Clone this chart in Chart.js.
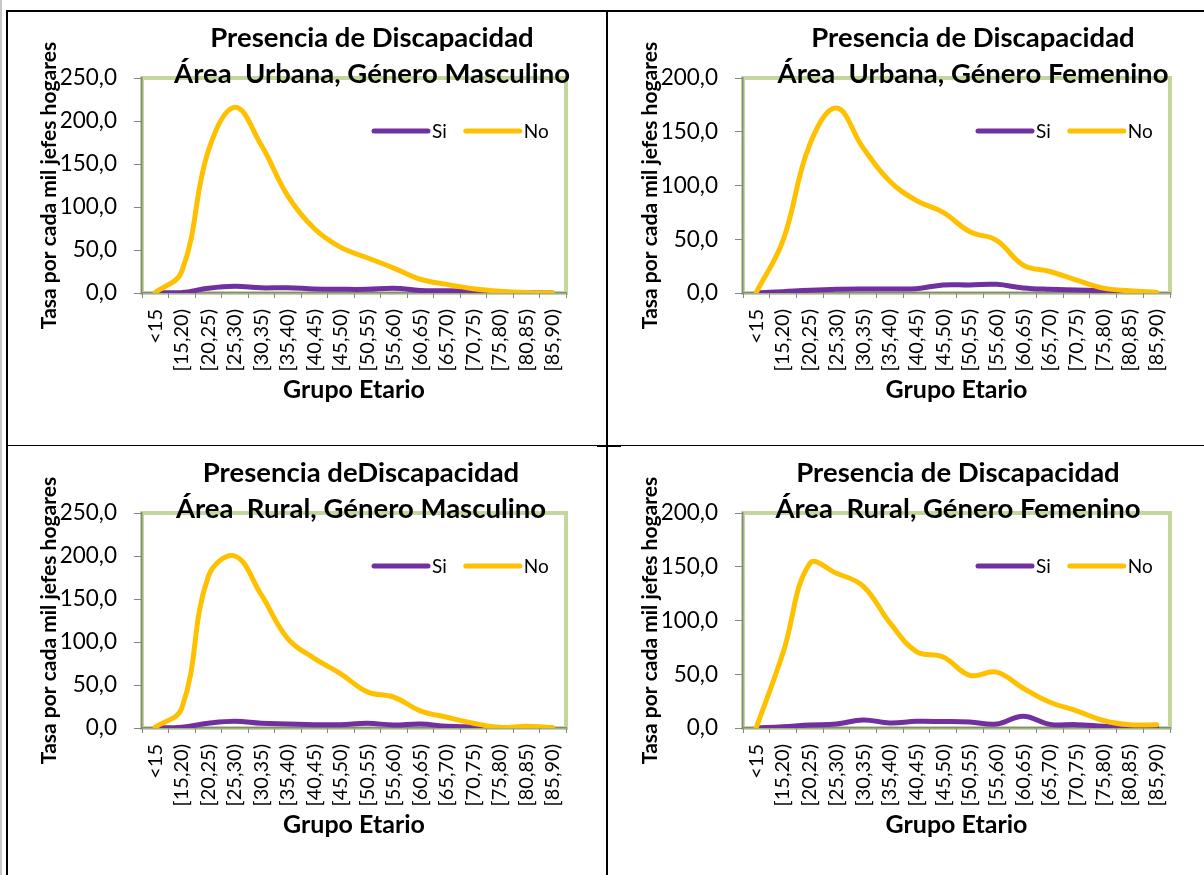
<!DOCTYPE html>
<html lang="es">
<head>
<meta charset="utf-8">
<title>Presencia de Discapacidad</title>
<script src="https://cdn.jsdelivr.net/npm/chart.js@4.4.1/dist/chart.umd.min.js"></script>
<style>
  body { margin: 0; width: 1204px; height: 875px; overflow: hidden; background: #fff; position: relative; font-family: Lato, sans-serif; }
  .rule { position: absolute; background: #000; }
  canvas { position: absolute; }
</style>
</head>
<body>
<!-- table borders around the four charts -->
<div class="rule" style="left:0;top:0;width:2px;height:875px;background:#c8c8c8"></div>
<div class="rule" style="left:6px;top:10px;width:1198px;height:2px"></div>
<div class="rule" style="left:6px;top:10px;width:2px;height:865px"></div>
<div class="rule" style="left:606px;top:10px;width:2px;height:865px"></div>
<div class="rule" style="left:8px;top:445px;width:1196px;height:1px"></div>
<div class="rule" style="left:597px;top:445px;width:24px;height:2px"></div>

<canvas id="urbMasc" width="599" height="428" style="left:8px;top:12px"></canvas>
<canvas id="urbFem" width="595" height="428" style="left:609px;top:12px"></canvas>
<canvas id="rurMasc" width="599" height="428" style="left:8px;top:447px"></canvas>
<canvas id="rurFem" width="595" height="428" style="left:609px;top:447px"></canvas>

<script>
const categories = ['<15', '[15,20)', '[20,25)', '[25,30)', '[30,35)', '[35,40)', '[40,45)', '[45,50)',
  '[50,55)', '[55,60)', '[60,65)', '[65,70)', '[70,75)', '[75,80)', '[80,85)', '[85,90)'];

// tasa por cada mil jefes de hogar
const urbMascSi = [0.1, 0.5, 5.5, 7.8, 6.0, 6.2, 4.7, 4.3, 4.3, 5.5, 3.0, 2.7, 2.0, 0.8, 0.3, 0.1];
const urbMascNo = [0.5, 25, 165, 216, 172, 113, 75, 53, 41, 29, 16, 10, 5, 2, 0.5, 0.2];
const urbFemSi = [0, 1.2, 2.5, 3.4, 3.7, 3.7, 4.0, 7.5, 7.5, 8.1, 4.7, 3.4, 2.8, 2.2, 0.6, 0];
const urbFemNo = [0.5, 49, 138, 172, 135, 104, 86, 75, 57, 49, 26, 20, 12, 4.5, 2, 0.6];
const rurMascSi = [0, 1, 5.5, 7.8, 5.5, 4.7, 3.9, 3.9, 5.5, 3.5, 4.7, 2, 1.2, 0.1, 0.2, 0];
const rurMascNo = [1, 23, 176, 200, 155, 104, 81, 63, 42, 36, 20, 12.5, 5.5, 0.8, 2, 0.3];
const rurFemSi = [0, 1.2, 2.8, 3.7, 7.5, 4.7, 6.2, 6.0, 5.6, 3.7, 11, 3.4, 3.1, 1.6, 0.3, 0.3];
const rurFemNo = [0.5, 70, 153, 144, 132, 98, 71, 66, 49, 52, 37, 24, 16, 7, 3, 3];

const ticks250 = ['0,0', '50,0', '100,0', '150,0', '200,0', '250,0'];
const ticks200 = ['0,0', '50,0', '100,0', '150,0', '200,0'];

const purple = '#7030a0', gold = '#ffc000', green = '#c3d69b', axisGray = '#868686';

// green plot frame, two-line title and the legend inside the plot
const panelDeco = {
  id: 'panelDeco',
  beforeDraw(chart) {
    const a = chart.chartArea, ctx = chart.ctx;
    ctx.save();
    ctx.strokeStyle = green;
    ctx.lineWidth = 4;
    ctx.strokeRect(a.left, a.top, a.right - a.left, a.bottom - a.top);
    ctx.restore();
  },
  afterDraw(chart, args, opts) {
    const a = chart.chartArea, ctx = chart.ctx;
    ctx.save();
    ctx.fillStyle = '#000';
    ctx.textAlign = 'center';
    ctx.textBaseline = 'middle';
    ctx.font = 'bold 27.5px Lato';
    opts.title.forEach((t, i) => ctx.fillText(t, opts.titleX, 26 + i * 36));

    ctx.font = '19px Lato';
    ctx.textAlign = 'left';
    let x = a.right - 192;
    const y = a.top + 53;
    chart.data.datasets.forEach(ds => {
      ctx.strokeStyle = ds.borderColor;
      ctx.lineWidth = ds.borderWidth;
      ctx.lineCap = 'round';
      ctx.beginPath();
      ctx.moveTo(x, y);
      ctx.lineTo(x + 54, y);
      ctx.stroke();
      ctx.fillText(ds.label, x + 58, y + 1);
      x += 58 + ctx.measureText(ds.label).width + 19;
    });
    ctx.restore();
  }
};

function makePanel(id, title, titleX, si, no, yMax, yLabels, padRight) {
  const line = { borderWidth: 5, tension: 0.4, pointRadius: 0, borderCapStyle: 'round', borderJoinStyle: 'round', fill: false };
  return new Chart(document.getElementById(id), {
    type: 'line',
    data: {
      labels: categories,
      datasets: [
        { ...line, label: 'Si', data: si, borderColor: purple, backgroundColor: purple, order: 1 },
        { ...line, label: 'No', data: no, borderColor: gold, backgroundColor: gold, order: 0 }
      ]
    },
    options: {
      responsive: false,
      animation: false,
      layout: { padding: { top: 66, right: padRight, bottom: 0, left: 0 } },
      plugins: {
        legend: { display: false },
        tooltip: { enabled: false },
        panelDeco: { title: title, titleX: titleX }
      },
      scales: {
        x: {
          offset: true,
          grid: { offset: true, drawOnChartArea: false, tickLength: 5, color: axisGray },
          border: { color: axisGray, width: 1.5 },
          ticks: { autoSkip: false, minRotation: 90, maxRotation: 90, padding: 11, color: '#000', font: { family: 'Lato', size: 20 } },
          title: { display: true, text: 'Grupo Etario', color: '#000', font: { family: 'Lato', size: 25, weight: 'bold' }, padding: { top: 0, bottom: 35 } },
          afterFit: s => { s.height = 147; }
        },
        y: {
          min: 0,
          max: yMax,
          grid: { drawOnChartArea: false, tickLength: 8, color: axisGray },
          border: { color: axisGray, width: 1.5 },
          ticks: { stepSize: 50, padding: 17, color: '#000', font: { family: 'Lato', size: 22.5 }, callback: (v, i) => yLabels[i] },
          title: { display: true, text: 'Tasa por cada mil jefes hogares', color: '#000', font: { family: 'Lato', size: 21, weight: 'bold' }, padding: { top: 29, bottom: 0 } },
          afterFit: s => { s.width = 134; }
        }
      }
    },
    plugins: [panelDeco]
  });
}

makePanel('urbMasc', ['Presencia de Discapacidad', 'Área  Urbana, Género Masculino'], 364, urbMascSi, urbMascNo, 250, ticks250, 41);
makePanel('urbFem', ['Presencia de Discapacidad', 'Área  Urbana, Género Femenino'], 364, urbFemSi, urbFemNo, 200, ticks200, 34);
makePanel('rurMasc', ['Presencia deDiscapacidad', 'Área  Rural, Género Masculino'], 353, rurMascSi, rurMascNo, 250, ticks250, 41);
makePanel('rurFem', ['Presencia de Discapacidad', 'Área  Rural, Género Femenino'], 349, rurFemSi, rurFemNo, 200, ticks200, 34);
</script>
</body>
</html>
